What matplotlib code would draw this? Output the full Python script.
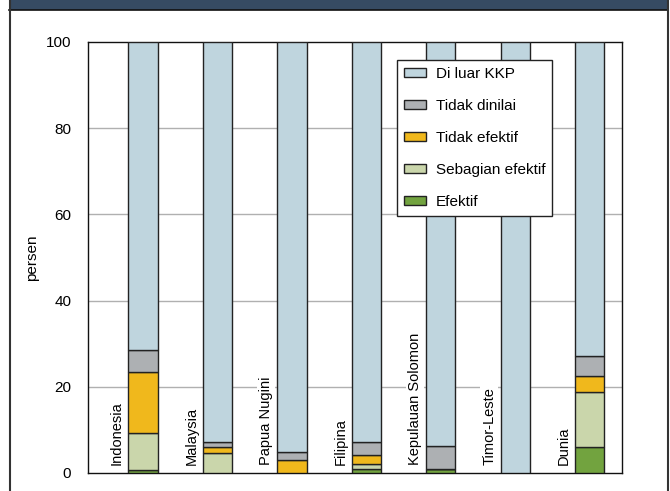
import matplotlib.pyplot as plt
from matplotlib.patches import Rectangle
from matplotlib.lines import Line2D
import numpy as np

plt.rcParams['font.family'] = ['Liberation Sans', 'DejaVu Sans']

# data (persen)
negara = ["Indonesia", "Malaysia", "Papua Nugini", "Filipina",
          "Kepulauan Solomon", "Timor-Leste", "Dunia"]
efektif = [0.8, 0.0, 0.0, 0.9, 0.9, 0.0, 6.1]
sebagian_efektif = [8.5, 4.7, 0.0, 1.1, 0.0, 0.0, 12.8]
tidak_efektif = [14.2, 1.3, 3.0, 2.2, 0.0, 0.0, 3.7]
tidak_dinilai = [5.0, 1.2, 1.9, 2.9, 5.4, 0.0, 4.5]
di_luar_kkp = [100 - a - b - c - d for a, b, c, d in
               zip(efektif, sebagian_efektif, tidak_efektif, tidak_dinilai)]

series = [
    ("Efektif", efektif, "#72a33f"),
    ("Sebagian efektif", sebagian_efektif, "#cad6ab"),
    ("Tidak efektif", tidak_efektif, "#f0b81c"),
    ("Tidak dinilai", tidak_dinilai, "#adb0b3"),
    ("Di luar KKP", di_luar_kkp, "#bfd5de"),
]

fig = plt.figure(figsize=(6.70, 4.91), dpi=100)
ax = fig.add_axes([88 / 670, 1 - 473 / 491, (622 - 88) / 670, (473 - 42) / 491])

x = np.arange(len(negara))
bottom = np.zeros(len(negara))
handles = []
for label, vals, color in series:
    vals = np.array(vals)
    ax.bar(x, vals, bottom=bottom, width=0.39, color=color,
           edgecolor="#222222", linewidth=1.0, zorder=3)
    bottom += vals
    handles.append(Rectangle((0, 0), 1, 1, facecolor=color,
                             edgecolor="#222222", linewidth=1.0))

ax.set_xlim(-0.738, 6.43)
ax.set_ylim(0, 100)
ax.set_yticks([0, 20, 40, 60, 80, 100])
ax.tick_params(axis="y", length=0, labelsize=11, pad=12)
ax.set_xticks([])
ax.set_ylabel("persen", fontsize=11, labelpad=5)
for y in [20, 40, 60, 80]:
    ax.axhline(y, color="#b0b0b0", linewidth=1.0, zorder=1)
for s in ax.spines.values():
    s.set_linewidth(1.0)
    s.set_color("#111111")

for xi, name in zip(x, negara):
    ax.text(xi - 0.35, 1.8, name, rotation=90, ha="center", va="bottom",
            fontsize=10.5, zorder=2,
            bbox=dict(facecolor="white", edgecolor="none", pad=1.5))

leg = ax.legend(handles[::-1], [s[0] for s in series][::-1],
                loc="upper left", bbox_to_anchor=((397 - 88) / 534, 1 - (60 - 42) / 431),
                fontsize=11, frameon=True, fancybox=False, framealpha=1,
                edgecolor="#222222", handlelength=1.45, handleheight=0.55,
                labelspacing=1.18, borderpad=0.45, handletextpad=0.65,
                borderaxespad=0)
leg.get_frame().set_linewidth(1.0)
leg.set_zorder(5)

# page frame and header band
fig.add_artist(Rectangle((9 / 670, 1 - 10 / 491), 659 / 670, 10 / 491,
                         transform=fig.transFigure, facecolor="#364b63",
                         edgecolor="none"))
fig.add_artist(Line2D([9 / 670, 668 / 670], [1 - 10 / 491] * 2,
                      transform=fig.transFigure, color="#111111", linewidth=1.2))
fig.add_artist(Line2D([9.5 / 670] * 2, [0, 1], transform=fig.transFigure,
                      color="#333333", linewidth=1.5))
fig.add_artist(Line2D([667.5 / 670] * 2, [0, 1], transform=fig.transFigure,
                      color="#333333", linewidth=1.5))

fig.savefig("out.png", dpi=100)
